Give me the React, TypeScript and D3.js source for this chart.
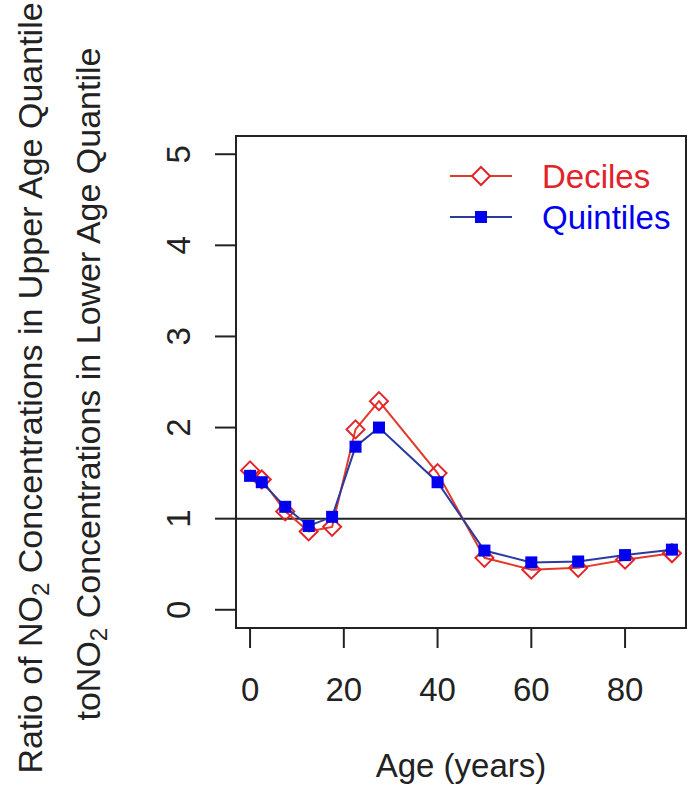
import React, { useRef, useEffect } from 'react';
import * as d3 from 'd3';

// Age groups (midpoints) and ratios
const ages = [0, 2.5, 7.5, 12.5, 17.5, 22.5, 27.5, 40, 50, 60, 70, 80, 90];
const deciles = [1.53, 1.43, 1.08, 0.86, 0.91, 1.98, 2.29, 1.5, 0.57, 0.44, 0.46, 0.55, 0.62];
const quintiles = [1.47, 1.4, 1.13, 0.92, 1.02, 1.79, 2.0, 1.4, 0.65, 0.52, 0.53, 0.6, 0.66];
const xTicks = [0, 20, 40, 60, 80];
const yTicks = [0, 1, 2, 3, 4, 5];

const RED = '#e2232a';
const RED_LINE = '#e23a2a';
const BLUE = '#0000ee';
const BLUE_LINE = '#2a3a9e';
const FONT = '"Liberation Sans", Arial, Helvetica, sans-serif';

export default function App() {
  const svgRef = useRef<SVGSVGElement>(null);

  useEffect(() => {
    const svg = d3.select(svgRef.current);
    svg.selectAll('*').remove();
    if (!svgRef.current) return;

    const box = { left: 236, top: 136, right: 686, bottom: 628 };
    const x = d3.scaleLinear().domain([-3, 93]).range([box.left, box.right]);
    const y = d3.scaleLinear().domain([-0.2, 5.2]).range([box.bottom, box.top]);
    const fs = 33;

    // Reference line at ratio = 1
    svg.append('line')
      .attr('x1', box.left).attr('x2', box.right)
      .attr('y1', y(1)).attr('y2', y(1))
      .attr('stroke', '#222').attr('stroke-width', 2);

    type Pt = { a: number; v: number };
    const line = d3.line<Pt>().x((d) => x(d.a)).y((d) => y(d.v));
    const dec: Pt[] = ages.map((a, i) => ({ a, v: deciles[i] }));
    const qui: Pt[] = ages.map((a, i) => ({ a, v: quintiles[i] }));

    // Deciles
    svg.append('path').datum(dec).attr('d', line)
      .attr('fill', 'none').attr('stroke', RED_LINE).attr('stroke-width', 2);
    const diamond = (cx: number, cy: number, r: number) =>
      `M${cx},${cy - r}L${cx + r},${cy}L${cx},${cy + r}L${cx - r},${cy}Z`;
    svg.selectAll('.dia').data(dec).enter().append('path')
      .attr('d', (d) => diamond(x(d.a), y(d.v), 9))
      .attr('fill', 'none').attr('stroke', RED).attr('stroke-width', 2);

    // Quintiles
    svg.append('path').datum(qui).attr('d', line)
      .attr('fill', 'none').attr('stroke', BLUE_LINE).attr('stroke-width', 2);
    svg.selectAll('.sq').data(qui).enter().append('rect')
      .attr('x', (d) => x(d.a) - 6).attr('y', (d) => y(d.v) - 6)
      .attr('width', 12).attr('height', 12).attr('fill', BLUE);

    // Box
    svg.append('rect')
      .attr('x', box.left).attr('y', box.top)
      .attr('width', box.right - box.left).attr('height', box.bottom - box.top)
      .attr('fill', 'none').attr('stroke', '#222').attr('stroke-width', 2);

    // X axis
    xTicks.forEach((t) => {
      svg.append('line').attr('x1', x(t)).attr('x2', x(t))
        .attr('y1', box.bottom).attr('y2', box.bottom + 20)
        .attr('stroke', '#222').attr('stroke-width', 2);
      svg.append('text').attr('x', x(t)).attr('y', 701)
        .attr('text-anchor', 'middle').attr('font-family', FONT)
        .attr('font-size', fs).attr('fill', '#222').text(t);
    });
    svg.append('text').attr('x', 461).attr('y', 777)
      .attr('text-anchor', 'middle').attr('font-family', FONT)
      .attr('font-size', fs).attr('fill', '#222').text('Age (years)');

    // Y axis
    yTicks.forEach((t) => {
      svg.append('line').attr('x1', box.left - 21).attr('x2', box.left)
        .attr('y1', y(t)).attr('y2', y(t))
        .attr('stroke', '#222').attr('stroke-width', 2);
      svg.append('text')
        .attr('transform', `translate(190,${y(t)}) rotate(-90)`)
        .attr('text-anchor', 'middle').attr('font-family', FONT)
        .attr('font-size', fs).attr('fill', '#222').text(t);
    });

    const title = (bx: number, cy: number, pre: string, post: string) => {
      const t = svg.append('text')
        .attr('transform', `translate(${bx},${cy}) rotate(-90)`)
        .attr('text-anchor', 'middle').attr('font-family', FONT)
        .attr('font-size', 34).attr('fill', '#222');
      t.append('tspan').text(pre);
      t.append('tspan').attr('font-size', 24).attr('dy', 7).text('2');
      t.append('tspan').attr('dy', -7).text(post);
    };
    title(42, 388, 'Ratio of NO', ' Concentrations in Upper Age Quantile');
    title(100, 384, 'toNO', ' Concentrations in Lower Age Quantile');

    // Legend
    const leg = [
      { label: 'Deciles', color: RED, line: RED_LINE, ly: 176 },
      { label: 'Quintiles', color: BLUE, line: BLUE_LINE, ly: 217 },
    ];
    leg.forEach((l, i) => {
      svg.append('line').attr('x1', 450).attr('x2', 512)
        .attr('y1', l.ly).attr('y2', l.ly)
        .attr('stroke', l.line).attr('stroke-width', 2);
      if (i === 0) {
        svg.append('path').attr('d', diamond(481, l.ly, 9))
          .attr('fill', 'white').attr('stroke', RED).attr('stroke-width', 2);
      } else {
        svg.append('rect').attr('x', 475).attr('y', l.ly - 6)
          .attr('width', 12).attr('height', 12).attr('fill', BLUE);
      }
      svg.append('text').attr('x', 542).attr('y', l.ly + 12)
        .attr('font-family', FONT).attr('font-size', fs)
        .attr('fill', l.color).text(l.label);
    });
  }, []);

  return (
    <svg
      ref={svgRef}
      width={687}
      height={788}
      style={{ position: 'absolute', left: 0, top: 0, background: 'white' }}
    />
  );
}
